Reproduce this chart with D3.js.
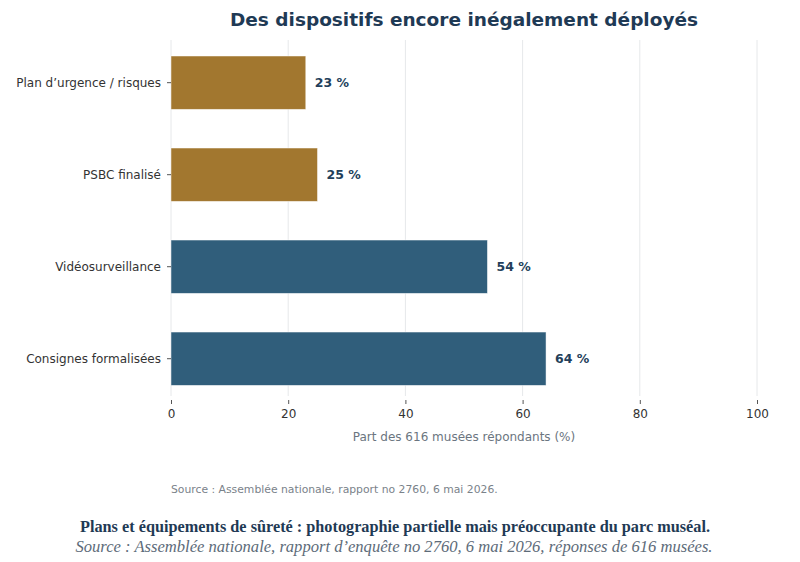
<!DOCTYPE html>
<html lang="fr">
<head>
  <meta charset="utf-8">
  <title>Des dispositifs encore inégalement déployés</title>
  <script src="https://cdn.jsdelivr.net/npm/d3@7"></script>
  <style>
    body { margin: 0; background: #fff; }
    .grid line { stroke: #e6e8ea; stroke-width: 1; }
    .axis path { display: none; }
    .axis line { stroke: #555; }
    .axis text { font-family: "DejaVu Sans", sans-serif; font-size: 12px; fill: #333; }
  </style>
</head>
<body>
  <div id="chart"></div>
  <script>
    // données
    const categories = ['Plan d\u2019urgence / risques', 'PSBC finalisé', 'Vidéosurveillance', 'Consignes formalisées']
    const values = [23, 25, 54, 64]
    const groups = ['plan', 'plan', 'equip', 'equip']
    const xTicks = [0, 20, 40, 60, 80, 100]

    const width = 800
    const height = 562
    const margin = { top: 40, left: 171, right: 43 }
    const plotBottom = 396
    const colors = { plan: '#a2772f', equip: '#305e7b' }

    const svg = d3.select('#chart')
      .append('svg')
      .attr('width', width)
      .attr('height', height)

    const x = d3.scaleLinear().domain([0, 100]).range([margin.left, width - margin.right])
    const y = d3.scaleBand().domain(categories)
      .range([37.6, 403.8]).paddingInner(0.42).paddingOuter(0.2)

    // grille verticale
    svg.append('g')
      .attr('class', 'grid')
      .selectAll('line')
      .data(xTicks)
      .enter()
      .append('line')
      .attr('x1', d => x(d))
      .attr('x2', d => x(d))
      .attr('y1', margin.top)
      .attr('y2', plotBottom)

    // barres
    svg.selectAll('rect.bar')
      .data(values)
      .enter()
      .append('rect')
      .attr('class', 'bar')
      .attr('x', x(0))
      .attr('y', (d, i) => y(categories[i]))
      .attr('width', d => x(d) - x(0))
      .attr('height', y.bandwidth())
      .attr('fill', (d, i) => colors[groups[i]])
      .attr('stroke', '#ffffff')
      .attr('stroke-opacity', 0.6)
      .attr('stroke-width', 0.8)

    // étiquettes de valeur
    svg.selectAll('text.val')
      .data(values)
      .enter()
      .append('text')
      .attr('class', 'val')
      .attr('x', d => x(d) + 9)
      .attr('y', (d, i) => y(categories[i]) + y.bandwidth() / 2)
      .attr('dy', '0.35em')
      .attr('font-family', 'DejaVu Sans, sans-serif')
      .attr('font-size', 12.5)
      .attr('font-weight', 'bold')
      .attr('fill', '#243f5b')
      .text(d => d + ' %')

    // axes
    svg.append('g')
      .attr('class', 'axis')
      .attr('transform', 'translate(0,' + (plotBottom + 4) + ')')
      .call(d3.axisBottom(x).tickValues(xTicks).tickSize(4).tickPadding(5))

    svg.append('g')
      .attr('class', 'axis')
      .attr('transform', 'translate(' + x(0) + ',0)')
      .call(d3.axisLeft(y).tickSize(4).tickPadding(6))

    // titres
    svg.append('text')
      .attr('x', (x(0) + x(100)) / 2)
      .attr('y', 26)
      .attr('text-anchor', 'middle')
      .attr('font-family', 'DejaVu Sans, sans-serif')
      .attr('font-size', 18.5)
      .attr('font-weight', 'bold')
      .attr('fill', '#1f3a55')
      .text('Des dispositifs encore inégalement déployés')

    svg.append('text')
      .attr('x', (x(0) + x(100)) / 2)
      .attr('y', 441)
      .attr('text-anchor', 'middle')
      .attr('font-family', 'DejaVu Sans, sans-serif')
      .attr('font-size', 12)
      .attr('fill', '#6b7580')
      .text('Part des 616 musées répondants (%)')

    svg.append('text')
      .attr('x', x(0))
      .attr('y', 493)
      .attr('font-family', 'DejaVu Sans, sans-serif')
      .attr('font-size', 10.8)
      .attr('fill', '#7a828a')
      .text('Source : Assemblée nationale, rapport no 2760, 6 mai 2026.')

    // légende sous le graphique
    svg.append('text')
      .attr('x', 395)
      .attr('y', 532)
      .attr('text-anchor', 'middle')
      .attr('font-family', 'Liberation Serif, serif')
      .attr('font-size', 16)
      .attr('font-weight', 'bold')
      .attr('fill', '#1f3a55')
      .attr('textLength', 630)
      .attr('lengthAdjust', 'spacingAndGlyphs')
      .text('Plans et équipements de sûreté : photographie partielle mais préoccupante du parc muséal.')

    svg.append('text')
      .attr('x', 394)
      .attr('y', 552)
      .attr('text-anchor', 'middle')
      .attr('font-family', 'Liberation Serif, serif')
      .attr('font-size', 16)
      .attr('font-style', 'italic')
      .attr('fill', '#5d6b79')
      .attr('textLength', 637)
      .attr('lengthAdjust', 'spacingAndGlyphs')
      .text('Source : Assemblée nationale, rapport d\u2019enquête no 2760, 6 mai 2026, réponses de 616 musées.')
  </script>
</body>
</html>
